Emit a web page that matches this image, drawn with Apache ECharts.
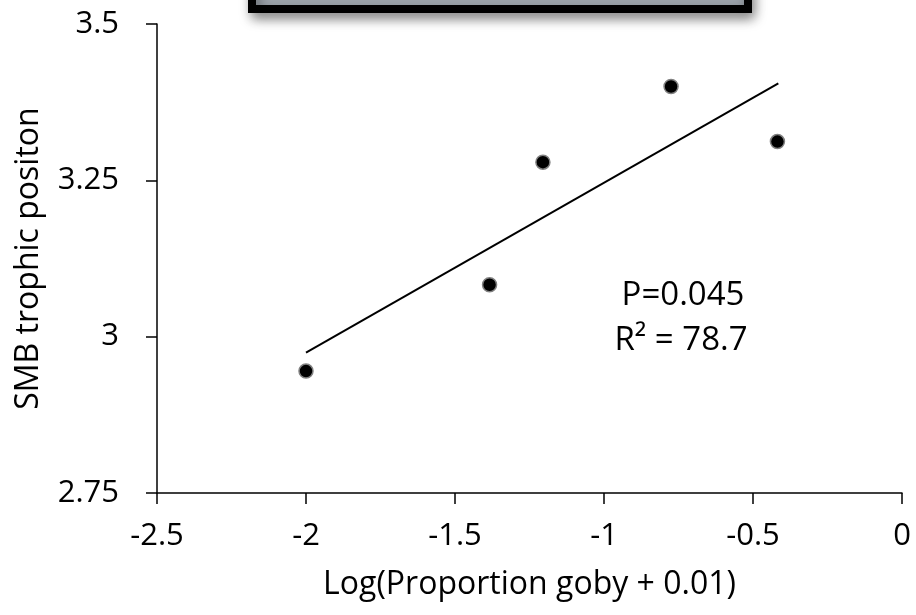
<!DOCTYPE html>
<html>
<head>
<meta charset="utf-8">
<script src="https://cdn.jsdelivr.net/npm/echarts@6/dist/echarts.min.js"></script>
<style>html,body{margin:0;padding:0;background:#fff}#c{width:916px;height:615px}</style>
</head>
<body>
<div id="c"></div>
<script>
// Data
const logProportionGoby = [-2.0, -1.384, -1.205, -0.775, -0.418];
const smbTrophicPosition = [2.945, 3.083, 3.279, 3.400, 3.312];
const trendX = [-2.0, -0.415];
const trendY = [2.9745, 3.405];
const xTicks = { min: -2.5, max: 0, interval: 0.5 };
const yTicks = { min: 2.75, max: 3.5, interval: 0.25 };
const annotationLines = ['P=0.045', 'R\u00B2 = 78.7'];
const xTitle = 'Log(Proportion goby + 0.01)';
const yTitle = 'SMB trophic positon';

const FONT = '"Open Sans", "Noto Sans", sans-serif';
const chart = echarts.init(document.getElementById('c'), null, { renderer: 'canvas' });

const points = logProportionGoby.map((x, i) => [x, smbTrophicPosition[i]]);
const trend = trendX.map((x, i) => [x, trendY[i]]);

chart.setOption({
  animation: false,
  backgroundColor: '#ffffff',
  grid: { left: 157, right: 14, top: 24, bottom: 122, containLabel: false },
  xAxis: {
    type: 'value', min: xTicks.min, max: xTicks.max, interval: xTicks.interval,
    name: xTitle, nameLocation: 'middle', nameGap: 76,
    nameTextStyle: { fontFamily: FONT, fontSize: 32, color: '#000' },
    axisLine: { show: true, onZero: false, lineStyle: { color: '#000', width: 1.5 } },
    axisTick: { show: true, inside: false, length: 11, lineStyle: { color: '#000', width: 1.5 } },
    axisLabel: { fontFamily: FONT, fontSize: 31, color: '#000', margin: 28 },
    splitLine: { show: false }
  },
  yAxis: {
    type: 'value', min: yTicks.min, max: yTicks.max, interval: yTicks.interval,
    name: yTitle, nameLocation: 'middle', nameGap: 112, nameRotate: 90,
    nameTextStyle: { fontFamily: FONT, fontSize: 32, color: '#000' },
    axisLine: { show: true, onZero: false, lineStyle: { color: '#000', width: 1.5 } },
    axisTick: { show: true, inside: false, length: 11, lineStyle: { color: '#000', width: 1.5 } },
    axisLabel: { fontFamily: FONT, fontSize: 31, color: '#000', margin: 38 },
    splitLine: { show: false }
  },
  series: [
    {
      type: 'line', data: trend, showSymbol: false, symbol: 'none',
      lineStyle: { color: '#000', width: 2 }, z: 2, silent: true
    },
    {
      type: 'scatter', data: points, symbol: 'circle', symbolSize: 14,
      itemStyle: { color: '#000', opacity: 1, borderColor: '#808080', borderWidth: 1.5 }, z: 3
    }
  ],
  graphic: [
    {
      type: 'rect', z: 10,
      shape: { x: 252, y: -40, width: 496, height: 49 },
      style: { fill: '#9ca3aa', stroke: '#000', lineWidth: 8,
               shadowBlur: 12, shadowOffsetY: 6, shadowOffsetX: 3, shadowColor: 'rgba(0,0,0,0.4)' }
    },
    {
      type: 'text', z: 10, x: 683, y: 296,
      style: { text: annotationLines[0], font: '33px ' + FONT, fill: '#000', align: 'center', verticalAlign: 'middle' }
    },
    {
      type: 'text', z: 10, x: 681, y: 341,
      style: { text: annotationLines[1], font: '33px ' + FONT, fill: '#000', align: 'center', verticalAlign: 'middle' }
    }
  ]
});
</script>
</body>
</html>
